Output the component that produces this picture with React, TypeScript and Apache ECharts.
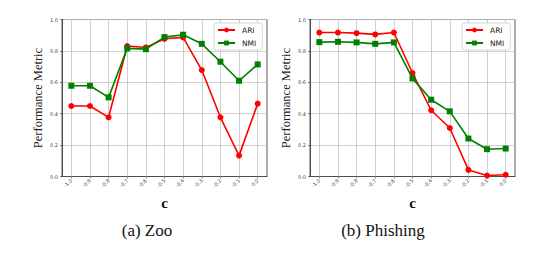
import React, { useEffect, useRef } from "react";
import * as echarts from "echarts";

const cValues = [-1.0, -0.9, -0.8, -0.7, -0.6, -0.5, -0.4, -0.3, -0.2, -0.1, 0.0];
const zooARI = [0.449, 0.449, 0.377, 0.831, 0.822, 0.877, 0.886, 0.678, 0.377, 0.133, 0.464];
const zooNMI = [0.578, 0.578, 0.504, 0.816, 0.811, 0.888, 0.903, 0.845, 0.731, 0.61, 0.714];
const phARI = [0.917, 0.917, 0.913, 0.905, 0.917, 0.659, 0.422, 0.309, 0.042, 0.006, 0.011];
const phNMI = [0.856, 0.858, 0.854, 0.845, 0.854, 0.625, 0.489, 0.415, 0.242, 0.174, 0.178];
const captions = ["(a) Zoo", "(b) Phishing"];

const SERIF = "'Liberation Serif', 'Times New Roman', serif";
const SANS = "'DejaVu Sans', sans-serif";
const RED = "#ff0000";
const GREEN = "#008000";
const GRIDC = "#c4c4c4";

export default function App() {
  const ref = useRef<HTMLDivElement>(null);
  useEffect(() => {
    if (!ref.current) return;
    const chart = echarts.init(ref.current, null, { renderer: "svg" });
    const gridLefts = [62, 310];
    const legendLefts = [214, 462];
    const datasets = [
      [zooARI, zooNMI],
      [phARI, phNMI],
    ];
    const grids = gridLefts.map((l) => ({
      left: l,
      top: 19.5,
      width: 205,
      height: 157,
      show: true,
      borderColor: "#333",
      borderWidth: 0.8,
      backgroundColor: "transparent",
    }));
    const xAxes = gridLefts.map((_, i) => ({
      type: "value",
      gridIndex: i,
      min: -1.05,
      max: 0.05,
      name: "c",
      nameLocation: "middle",
      nameGap: 19,
      nameTextStyle: { fontFamily: SERIF, fontSize: 15, fontWeight: "bold", color: "#111" },
      axisLine: { show: true, onZero: false, lineStyle: { color: "#333", width: 0.8 } },
      axisTick: { show: true, length: 2, customValues: cValues, lineStyle: { color: "#333", width: 0.6 } },
      axisLabel: {
        customValues: cValues,
        rotate: 45,
        fontSize: 5,
        fontFamily: SANS,
        color: "#444",
        margin: 3,
        formatter: (v: number) => v.toFixed(1),
      },
      splitLine: { show: false },
    }));
    const yAxes = gridLefts.map((_, i) => ({
      type: "value",
      gridIndex: i,
      min: 0,
      max: 1,
      interval: 0.2,
      name: "Performance Metric",
      nameLocation: "middle",
      nameGap: 18,
      nameRotate: 90,
      nameTextStyle: { fontFamily: SERIF, fontSize: 12.5, color: "#222" },
      axisLine: { show: true, onZero: false, lineStyle: { color: "#333", width: 0.8 } },
      axisTick: { show: true, length: 2, lineStyle: { color: "#333", width: 0.6 } },
      axisLabel: {
        fontSize: 5,
        fontFamily: SANS,
        color: "#444",
        margin: 4,
        formatter: (v: number) => v.toFixed(1),
      },
      splitLine: { show: true, lineStyle: { color: GRIDC, width: 0.8 } },
    }));
    const series: any[] = [];
    datasets.forEach(([ari, nmi], i) => {
      series.push({
        type: "line",
        name: "ARI",
        xAxisIndex: i,
        yAxisIndex: i,
        data: cValues.map((c, k) => [c, ari[k]]),
        symbol: "circle",
        symbolSize: 6,
        lineStyle: { color: RED, width: 1.6 },
        itemStyle: { color: RED },
        z: 3,
        markLine: {
          silent: true,
          symbol: "none",
          label: { show: false },
          lineStyle: { color: GRIDC, width: 0.8, type: "solid" },
          data: cValues.map((c) => ({ xAxis: c })),
          z: 1,
        },
      });
      series.push({
        type: "line",
        name: "NMI",
        xAxisIndex: i,
        yAxisIndex: i,
        data: cValues.map((c, k) => [c, nmi[k]]),
        symbol: "rect",
        symbolSize: 6,
        lineStyle: { color: GREEN, width: 1.6 },
        itemStyle: { color: GREEN },
        z: 4,
      });
    });
    const legends = legendLefts.map((l) => ({
      left: l,
      top: 23,
      orient: "vertical",
      data: ["ARI", "NMI"],
      itemWidth: 17,
      itemHeight: 6,
      itemGap: 5,
      padding: [3, 6, 3, 3],
      borderColor: "#ccc",
      borderWidth: 0.8,
      borderRadius: 2,
      backgroundColor: "#fff",
      textStyle: { fontFamily: SANS, fontSize: 7.5, color: "#222", padding: [0, 0, 0, 2] },
    }));
    chart.setOption({
      animation: false,
      backgroundColor: "#fff",
      grid: grids,
      xAxis: xAxes,
      yAxis: yAxes,
      legend: legends,
      series,
      graphic: captions.map((t, i) => ({
        type: "text",
        x: [147, 383][i],
        y: 230,
        style: {
          text: t,
          fontFamily: SERIF,
          fontSize: 17,
          fill: "#111",
          textAlign: "center",
          textVerticalAlign: "middle",
        },
      })),
    } as any);
    return () => chart.dispose();
  }, []);
  return (
    <div
      ref={ref}
      style={{ position: "absolute", left: 0, top: 0, width: 548, height: 257 }}
    />
  );
}
